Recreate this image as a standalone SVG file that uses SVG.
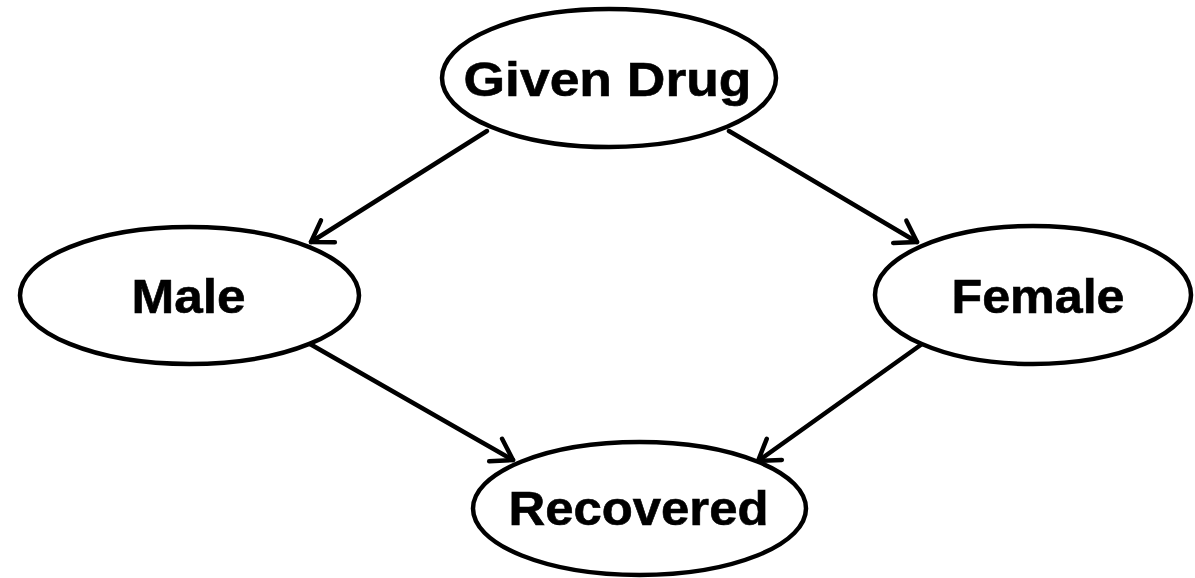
<svg xmlns="http://www.w3.org/2000/svg" width="1195" height="578" viewBox="0 0 1195 578">
  <style>
    .node ellipse { fill: #ffffff; stroke: #000000; stroke-width: 4.5; }
    .node text { font-family: "Liberation Sans", Arial, sans-serif; font-weight: bold; font-size: 48px; fill: #000000; stroke: #000000; stroke-width: 0.6; text-anchor: middle; }
    .edge { fill: none; stroke: #000000; stroke-width: 4.5; stroke-linecap: round; marker-end: url(#arrow); }
  </style>
  <defs>
    <marker id="arrow" markerUnits="userSpaceOnUse" markerWidth="40" markerHeight="40" viewBox="-30 -20 40 40" refX="0" refY="0" orient="auto">
      <path d="M -20 -13 L 0 0 L -20 13" fill="none" stroke="#000000" stroke-width="4.5" stroke-linecap="round" stroke-linejoin="round"/>
    </marker>
  </defs>
  <rect width="1195" height="578" fill="#ffffff"/>

  <g id="edges">
    <line class="edge" x1="487" y1="131" x2="311" y2="242"/>
    <line class="edge" x1="729" y1="131" x2="917" y2="242"/>
    <line class="edge" x1="310" y1="344" x2="513" y2="460"/>
    <line class="edge" x1="922" y1="344" x2="758" y2="461"/>
  </g>

  <g id="node-given-drug" class="node">
    <ellipse cx="609" cy="78" rx="167" ry="69"/>
    <text x="607.5" y="96" textLength="288" lengthAdjust="spacingAndGlyphs">Given Drug</text>
  </g>
  <g id="node-male" class="node">
    <ellipse cx="189.5" cy="295.5" rx="169.5" ry="68.5"/>
    <text x="188.5" y="313" textLength="114" lengthAdjust="spacingAndGlyphs">Male</text>
  </g>
  <g id="node-female" class="node">
    <ellipse cx="1033" cy="295" rx="158" ry="69"/>
    <text x="1038" y="313" textLength="173" lengthAdjust="spacingAndGlyphs">Female</text>
  </g>
  <g id="node-recovered" class="node">
    <ellipse cx="639.5" cy="508.5" rx="166.5" ry="66.5"/>
    <text x="638.5" y="525" textLength="260" lengthAdjust="spacingAndGlyphs">Recovered</text>
  </g>
</svg>
